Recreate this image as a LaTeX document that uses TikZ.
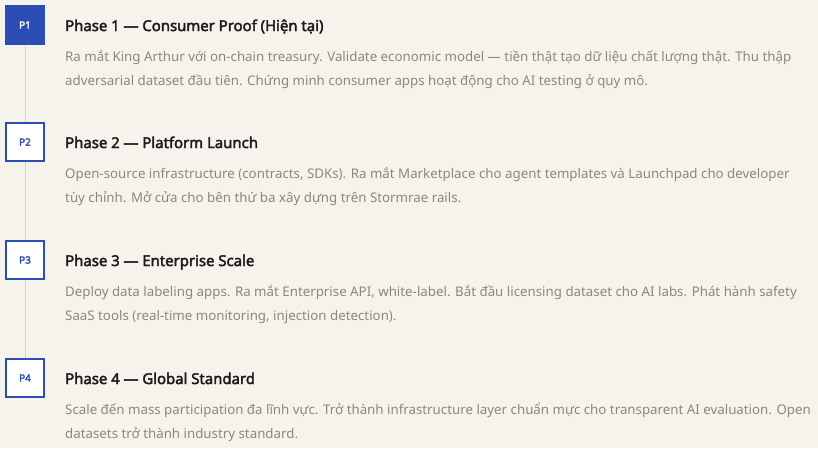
\documentclass[tikz,border=0pt]{standalone}
\usepackage{fontspec}
\setmainfont{Noto Sans}[AutoFakeBold=2.6]
\definecolor{bg}{HTML}{F6F3ED}
\definecolor{pblue}{HTML}{2C4DB4}
\definecolor{bodygray}{HTML}{8C867F}
\definecolor{titledark}{HTML}{1E1C1A}
\definecolor{rail}{HTML}{D9D4CB}
\tikzset{
  phasebox/.style={draw=pblue, line width=2pt, fill=white, minimum width=38pt, minimum height=38pt, inner sep=0pt, font=\fontsize{10}{10}\selectfont\bfseries, text=pblue},
  activebox/.style={phasebox, fill=pblue, text=white},
  phasetitle/.style={anchor=base west, inner sep=0pt, font=\fontsize{14.9}{14.9}\selectfont\bfseries, text=titledark},
  bodyline/.style={anchor=base west, inner sep=0pt, font=\fontsize{13.3}{13.3}\selectfont, text=bodygray},
  railline/.style={draw=rail, line width=1pt}
}
\begin{document}
\begin{tikzpicture}[x=1pt,y=-1pt]
\fill[bg] (0,0) rectangle (818,448);
\useasboundingbox (0,0) rectangle (818,448);
\node[activebox] (p1) at (25,25) {P1};
\node[phasebox] (p2) at (25,142) {P2};
\node[phasebox] (p3) at (25,260) {P3};
\node[phasebox] (p4) at (25,378) {P4};
\draw[railline] (p1.south) -- (p2.north);
\draw[railline] (p2.south) -- (p3.north);
\draw[railline] (p3.south) -- (p4.north);

\node[phasetitle] (t1) at (65,31) {Phase 1 — Consumer Proof (Hiện tại)};
\node[bodyline] (b1a) at (65,61) {Ra mắt King Arthur với on-chain treasury. Validate economic model — tiền thật tạo dữ liệu chất lượng thật. Thu thập};
\node[bodyline] (b1b) at (65,85) {adversarial dataset đầu tiên. Chứng minh consumer apps hoạt động cho AI testing ở quy mô.};

\node[phasetitle] (t2) at (65,148) {Phase 2 — Platform Launch};
\node[bodyline] (b2a) at (65,178) {Open-source infrastructure (contracts, SDKs). Ra mắt Marketplace cho agent templates và Launchpad cho developer};
\node[bodyline] (b2b) at (65,202) {tùy chỉnh. Mở cửa cho bên thứ ba xây dựng trên Stormrae rails.};

\node[phasetitle] (t3) at (65,266) {Phase 3 — Enterprise Scale};
\node[bodyline] (b3a) at (65,296) {Deploy data labeling apps. Ra mắt Enterprise API, white-label. Bắt đầu licensing dataset cho AI labs. Phát hành safety};
\node[bodyline] (b3b) at (65,320) {SaaS tools (real-time monitoring, injection detection).};

\node[phasetitle] (t4) at (65,384) {Phase 4 — Global Standard};
\node[bodyline] (b4a) at (65,414) {Scale đến mass participation đa lĩnh vực. Trở thành infrastructure layer chuẩn mực cho transparent AI evaluation. Open};
\node[bodyline] (b4b) at (65,438) {datasets trở thành industry standard.};
\end{tikzpicture}
\end{document}
